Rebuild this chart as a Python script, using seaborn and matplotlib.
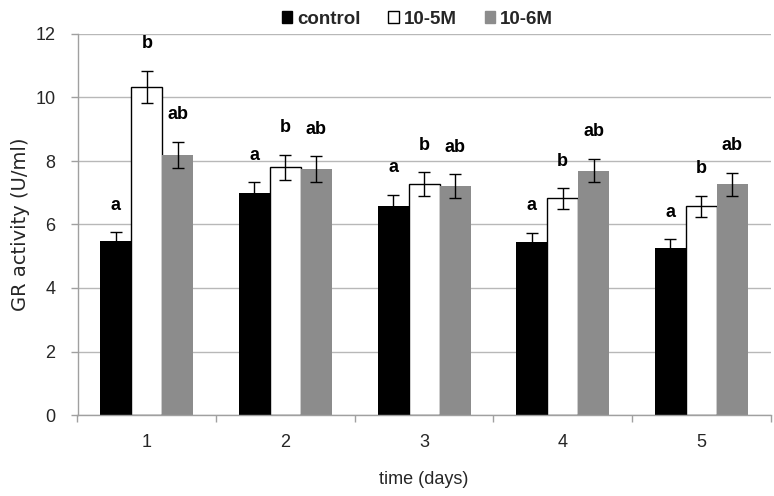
import matplotlib
matplotlib.use("Agg")
import matplotlib.pyplot as plt
import seaborn as sns
import pandas as pd
import numpy as np
from matplotlib.patches import Patch

days = ["1", "2", "3", "4", "5"]
groups = ["control", "10-5M", "10-6M"]
control = [5.48, 6.98, 6.58, 5.46, 5.25]
m5 = [10.33, 7.80, 7.27, 6.82, 6.57]
m6 = [8.19, 7.75, 7.22, 7.70, 7.27]
err_control = [0.27, 0.35, 0.35, 0.28, 0.28]
err_m5 = [0.51, 0.39, 0.37, 0.33, 0.33]
err_m6 = [0.41, 0.40, 0.37, 0.37, 0.36]
letters_control = ["a", "a", "a", "a", "a"]
letters_m5 = ["b", "b", "b", "b", "b"]
letters_m6 = ["ab", "ab", "ab", "ab", "ab"]

sns.set_theme(style="white")
plt.rcParams['font.family'] = ['Liberation Sans', 'DejaVu Sans']

rows = []
for g, vals in zip(groups, [control, m5, m6]):
    for d, v in zip(days, vals):
        rows.append({"day": d, "group": g, "value": v})
df = pd.DataFrame(rows)

colors = {"control": "#000000", "10-5M": "#ffffff", "10-6M": "#8c8c8c"}

fig = plt.figure(figsize=(7.74, 4.96), dpi=100)
ax = fig.add_axes([77.5/774, (496-415)/496, (770.7-77.5)/774, (415-34)/496])

sns.barplot(data=df, x="day", y="value", hue="group", order=days, hue_order=groups,
            palette=colors, width=0.67, gap=0, errorbar=None, ax=ax, legend=False,
            saturation=1, zorder=2)

errs = [err_control, err_m5, err_m6]
vals_all = [control, m5, m6]
letters = [letters_control, letters_m5, letters_m6]
bar_containers = list(ax.containers)
for ci, cont in enumerate(bar_containers):
    for bi, p in enumerate(cont.patches):
        if groups[ci] == "10-5M":
            p.set_edgecolor("black")
            p.set_linewidth(1.0)
        else:
            p.set_edgecolor("none")
        xc = p.get_x() + p.get_width() / 2
        v = vals_all[ci][bi]
        e = errs[ci][bi]
        ax.errorbar(xc, v, yerr=e, fmt="none", ecolor="black", elinewidth=1,
                    capsize=4, capthick=1, zorder=3)
        ax.text(xc, v + e + 0.85, letters[ci][bi], ha="center", va="center",
                fontsize=13, fontweight="bold", color="black")

ax.set_ylim(0, 12)
ax.set_xlim(-0.5, 4.5)
ax.set_yticks(np.arange(0, 13, 2))
ax.yaxis.grid(True, color="#b8b8b8", linewidth=1.0)
ax.set_axisbelow(True)
for s in ["top", "right"]:
    ax.spines[s].set_visible(False)
for s in ["left", "bottom"]:
    ax.spines[s].set_color("#a0a0a0")
    ax.spines[s].set_linewidth(1.0)

ax.set_xticks(range(5))
ax.set_xticklabels(days)
ax.set_xticks(np.arange(-0.5, 5, 1), minor=True)
ax.tick_params(axis="x", which="major", length=0, pad=14, labelsize=13)
ax.tick_params(axis="x", which="minor", length=5, color="#a0a0a0", width=1, direction="out", bottom=True)
ax.tick_params(axis="y", which="major", length=5, color="#a0a0a0", width=1, direction="out", left=True, labelsize=13, pad=11)

ax.set_xlabel("time (days)", fontsize=13, labelpad=14)
ax.set_ylabel("GR activity (U/ml)", fontsize=14, labelpad=4, family=["DejaVu Sans"])

handles = [Patch(facecolor=colors[g], edgecolor="black" if g == "10-5M" else colors[g], linewidth=1) for g in groups]
leg = fig.legend(handles, groups, loc="upper center", bbox_to_anchor=(0.539, 1.012), ncol=3,
                 frameon=False, handlelength=0.55, handleheight=0.6,
                 handletextpad=0.25, columnspacing=1.5, prop={"weight": "bold", "size": 13.5})

fig.savefig("out.png", dpi=100)
